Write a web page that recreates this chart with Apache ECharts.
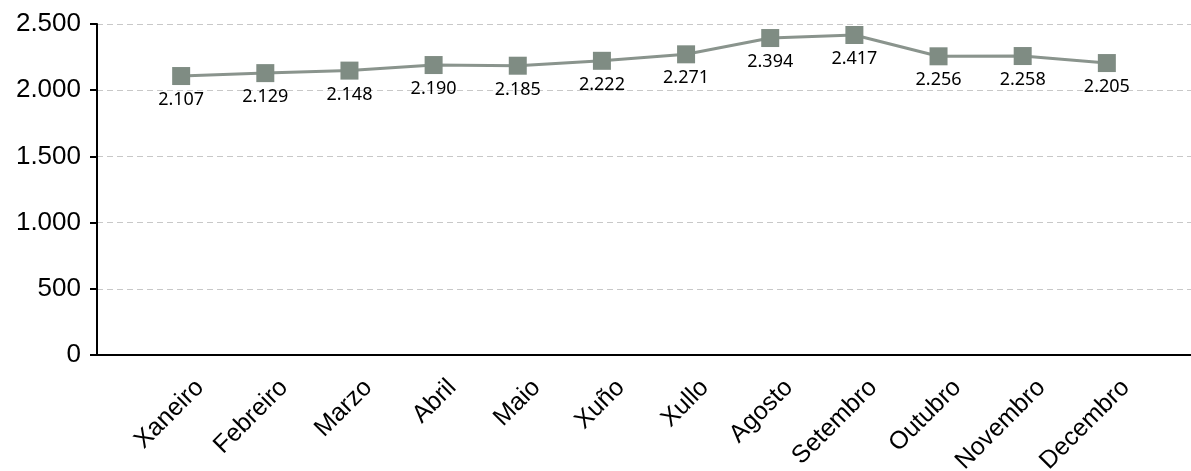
<!DOCTYPE html>
<html>
<head>
<meta charset="utf-8">
<script src="https://cdn.jsdelivr.net/npm/echarts@6/dist/echarts.min.js"></script>
<style>
  html, body { margin: 0; padding: 0; background: #fff; }
  #chart { width: 1191px; height: 471px; }
</style>
</head>
<body>
<div id="chart"></div>
<script>
// datos
var meses = ['Xaneiro', 'Febreiro', 'Marzo', 'Abril', 'Maio', 'Xuño', 'Xullo',
             'Agosto', 'Setembro', 'Outubro', 'Novembro', 'Decembro'];
var valores = [2107, 2129, 2148, 2190, 2185, 2222, 2271, 2394, 2417, 2256, 2258, 2205];
var ticksY = [0, 500, 1000, 1500, 2000, 2500];

function miles(v) {
    return String(v).replace(/\B(?=(\d{3})+(?!\d))/g, '.');
}

!function () {
    var myChart = echarts.init(document.getElementById('chart'));
    var puntos = valores.map(function (v, i) { return [i, v]; });
    var option = {
        animation: false,
        grid: {
            left: 97,
            right: 0,
            top: 24,
            bottom: 116,
            containLabel: false,
            outerBoundsMode: 'none'
        },
        xAxis: {
            type: 'value',
            min: -1,
            max: 12,
            interval: 1,
            axisLine: { show: true, onZero: false, lineStyle: { color: '#000', width: 2 } },
            axisTick: { show: false },
            splitLine: { show: false },
            axisLabel: {
                rotate: 45,
                margin: 10,
                verticalAlign: 'top',
                padding: [14, 0, 0, 0],
                color: '#000',
                fontFamily: 'Liberation Sans',
                fontSize: 25,
                showMinLabel: false,
                showMaxLabel: false,
                formatter: function (v) { return meses[v] || ''; }
            }
        },
        yAxis: {
            type: 'value',
            min: ticksY[0],
            max: ticksY[ticksY.length - 1],
            interval: 500,
            axisLine: { show: true, onZero: false, lineStyle: { color: '#000', width: 2 } },
            axisTick: { show: true, length: 7, lineStyle: { color: '#000', width: 2 } },
            splitLine: { show: true, lineStyle: { color: '#c8c8c8', type: [6, 4], width: 1 } },
            axisLabel: {
                color: '#000',
                fontFamily: 'Liberation Sans',
                fontSize: 26,
                margin: 16,
                formatter: function (v) { return miles(v); }
            }
        },
        series: [{
            type: 'line',
            data: puntos,
            symbol: 'rect',
            symbolSize: 18,
            lineStyle: { color: '#8a948d', width: 3 },
            itemStyle: { color: '#7f8c83' },
            label: {
                show: true,
                position: 'bottom',
                distance: 6,
                color: '#000',
                fontFamily: 'Noto Sans',
                fontSize: 18,
                formatter: function (p) { return miles(p.value[1]); }
            }
        }]
    };
    myChart.setOption(option);
}();
</script>
</body>
</html>
